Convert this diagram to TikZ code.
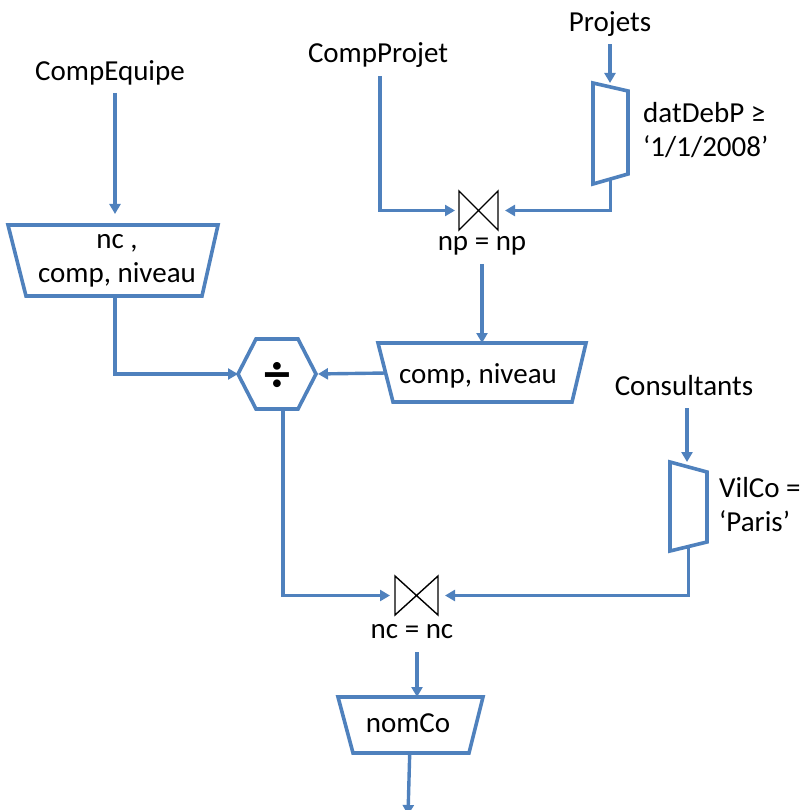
\documentclass[tikz,border=0pt]{standalone}
\usepackage{fontspec}
\setmainfont{Carlito}
\usetikzlibrary{arrows.meta}
\definecolor{myblue}{RGB}{79,129,189}
\pgfdeclarelayer{bg}
\pgfdeclarelayer{shp}
\pgfsetlayers{bg,shp,main}
\begin{document}
\begin{tikzpicture}[x=1pt,y=-1pt,
  lbl/.style={font=\fontsize{29}{34}\selectfont, inner sep=0pt},
  frame/.style={inner sep=0pt, outer sep=0pt, draw=none},
  shapeline/.style={draw=myblue, line width=3.6pt, fill=white, line join=miter},
  conn/.style={draw=myblue, line width=3.4pt, -{Triangle[length=10pt,width=11pt]}},
  tie/.style={draw=black, line width=1.4pt, line join=miter}]
\useasboundingbox (0,0) rectangle (803,810);

% text labels
\node[lbl, anchor=base] (ce) at (110,81) {CompEquipe};
\node[lbl, anchor=base] (cp) at (378,63) {CompProjet};
\node[lbl, anchor=base] (pj) at (610,32) {Projets};
\node[lbl, anchor=base] (cs) at (684,395) {Consultants};
\node[lbl, anchor=base] (np) at (482,251) {np = np};
\node[lbl, anchor=base] (nc) at (412,638) {nc = nc};
\node[lbl, anchor=base west] (c1a) at (643,123) {datDebP ≥};
\node[lbl, anchor=base west] (c1b) at (643,157) {‘1/1/2008’};
\node[lbl, anchor=base west] (c2a) at (719,497) {VilCo =};
\node[lbl, anchor=base west] (c2b) at (719,531) {‘Paris’};

% frames of shapes
\node[frame, minimum width=210pt, minimum height=71pt] (pe) at (113,260.5) {};
\node[frame, minimum width=208pt, minimum height=59pt] (pn) at (482,372.5) {};
\node[frame, minimum width=145pt, minimum height=56pt] (nm) at (410.5,725) {};
\node[frame, minimum width=35pt, minimum height=101pt] (s1) at (610.5,133.5) {};
\node[frame, minimum width=37pt, minimum height=89pt] (s2) at (688.5,506.5) {};
\node[frame, minimum width=78pt, minimum height=70pt] (hx) at (277,374) {};
\node[frame, minimum width=39pt, minimum height=39pt] (j1) at (478.5,210.5) {};
\node[frame, minimum width=43pt, minimum height=39pt] (j2) at (416.5,595.5) {};

% texts inside shapes
\node[lbl, anchor=base] (pet1) at (117,248) {nc ,};
\node[lbl, anchor=base] (pet2) at (117,282) {comp, niveau};
\node[lbl, anchor=base] (pnt) at (478,383) {comp, niveau};
\node[lbl, anchor=base] (nmt) at (408,732) {nomCo};
\node[font=\fontsize{52}{52}\bfseries\selectfont, inner sep=0pt] (div) at (277,377) {÷};

\begin{pgfonlayer}{shp}
\draw[shapeline] (pe.north west) -- (pe.north east) -- ([xshift=-16pt]pe.south east) -- ([xshift=18pt]pe.south west) -- cycle;
\draw[shapeline] (pn.north west) -- (pn.north east) -- ([xshift=-14pt]pn.south east) -- ([xshift=15pt]pn.south west) -- cycle;
\draw[shapeline] (nm.north west) -- (nm.north east) -- ([xshift=-14pt]nm.south east) -- ([xshift=15pt]nm.south west) -- cycle;
\draw[shapeline] (s1.north west) -- ([yshift=-8pt]s1.north east) -- ([yshift=10pt]s1.south east) -- (s1.south west) -- cycle;
\draw[shapeline] (s2.north west) -- ([yshift=-10pt]s2.north east) -- ([yshift=9pt]s2.south east) -- (s2.south west) -- cycle;
\draw[shapeline] (hx.west) -- ([xshift=18pt]hx.north west) -- ([xshift=-18pt]hx.north east) -- (hx.east) -- ([xshift=-18pt]hx.south east) -- ([xshift=18pt]hx.south west) -- cycle;
\end{pgfonlayer}

% joins (bowties)
\draw[tie] (j1.north west) -- (j1.south west) -- (j1.north east) -- (j1.south east) -- cycle;
\draw[tie] (j2.north west) -- (j2.south west) -- (j2.north east) -- (j2.south east) -- cycle;

\coordinate (out) at (408,815);

\begin{pgfonlayer}{bg}
\draw[conn, shorten <=7pt, shorten >=11pt] ([xshift=2pt]pe.north |- ce.south) -- ([xshift=2pt]pe.north);
\draw[conn] ([xshift=2pt]pe.center) |- (hx.west);
\draw[conn, shorten <=8pt, shorten >=4pt] ([xshift=2pt]cp.south) |- (j1.west);
\draw[conn, shorten <=7pt] (pj.south) -- (pj.south |- s1.north);
\draw[conn, shorten >=7pt] (s1.center) |- (j1.east);
\draw[conn, shorten <=8pt] (np.south) -- (np.south |- pn.north);
\draw[conn, shorten >=2pt] ([xshift=-60pt]pn.center) -- (hx.east);
\draw[conn, shorten >=5pt] ([xshift=6pt]hx.center) |- (j2.west);
\draw[conn, shorten <=13pt] ([xshift=3pt]cs.south) -- ([xshift=3pt]cs.south |- s2.north);
\draw[conn, shorten >=7pt] (s2.center) |- (j2.east);
\draw[conn, shorten <=14pt] ([xshift=5pt]nc.south) -- ([xshift=5pt]nc.south |- nm.north);
\draw[conn] (nm.center) -- (out);
\end{pgfonlayer}
\end{tikzpicture}
\end{document}
